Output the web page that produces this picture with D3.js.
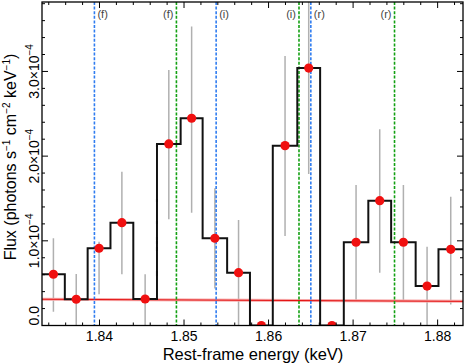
<!DOCTYPE html>
<html>
<head>
<meta charset="utf-8">
<script src="https://d3js.org/d3.v7.min.js"></script>
<style>
  body { margin: 0; background: #fff; }
  svg { display: block; font-family: 'Liberation Sans', Arial, sans-serif; }
</style>
</head>
<body>
<div class="Canvas"></div>
<script>
// bin edges in keV, values / errors in units of 1e-4
const binEdges = [1.8332, 1.8359, 1.8386, 1.8413, 1.8440, 1.8468, 1.8496, 1.8522, 1.8551, 1.8578,
  1.8605, 1.8634, 1.8661, 1.8689, 1.8718, 1.8745, 1.8774, 1.8801, 1.8830];
const fluxValues = [0.605, 0.31, 0.912, 1.214, 0.313, 2.144, 2.447, 1.03, 0.624, 0,
  2.124, 3.04, 0, 0.983, 1.474, 0.983, 0.466, 0.9];
const errHigh = [1.03, 0.608, 0.99, 1.816, 0.605, 3.018, 3.53, 1.62, 1.246, 0,
  3.183, 4.2, 0, 1.66, 2.317, 1.66, 0.93, 1.52];
const errLow = [0.175, 0, 0.38, 0.617, 0, 1.266, 1.344, 0.45, 0, 0,
  1.069, 1.8, 0, 0.3, 0.635, 0.3, 0, 0.26];
const modelLine = [[1.8332, 0.31], [1.8830, 0.285]];
const blueLines = [1.8394, 1.8538, 1.8650];
const greenLines = [1.8491, 1.8636, 1.8749];
const lineLabels = ['(f)', '(i)', '(r)'];
const xTicks = [1.84, 1.85, 1.86, 1.87, 1.88];
const yTicks = [0, 1, 2, 3];
const yTickLabels = ['0.0', '1.0', '2.0', '3.0'];

const width = 464;
const height = 364;
const pLeft = 42, pRight = 463, pTop = 2, pBottom = 325.5;

const svg = d3.select('.Canvas').append('svg').attr('width', width).attr('height', height);

const x = d3.scaleLinear().domain([1.8332, 1.8830]).range([pLeft, pRight]);
const y = d3.scaleLinear().domain([0, 3.82]).range([pBottom, pTop]);

svg.append('defs').append('clipPath').attr('id', 'plotClip')
  .append('rect').attr('x', pLeft).attr('y', pTop).attr('width', pRight - pLeft).attr('height', pBottom - pTop);

const plot = svg.append('g').attr('clip-path', 'url(#plotClip)');

const bins = fluxValues.map((v, i) => ({
  x0: binEdges[i], x1: binEdges[i + 1], xc: (binEdges[i] + binEdges[i + 1]) / 2,
  v: v, hi: errHigh[i], lo: errLow[i]
}));

// error bars
plot.selectAll('line.err')
  .data(bins.filter((d) => d.hi > d.lo))
  .enter()
  .append('line')
  .attr('class', 'err')
  .attr('x1', (d) => x(d.xc))
  .attr('x2', (d) => x(d.xc))
  .attr('y1', (d) => y(d.hi))
  .attr('y2', (d) => y(d.lo) + 1)
  .attr('stroke', '#b0b0b0')
  .attr('stroke-width', 1.5);

// continuum model
const model = d3.line().x((d) => x(d[0])).y((d) => y(d[1]));
plot.append('path').datum(modelLine).attr('d', model)
  .attr('fill', 'none').attr('stroke', '#f6a8a8').attr('stroke-width', 3);
plot.append('path').datum(modelLine).attr('d', model)
  .attr('fill', 'none').attr('stroke', '#e41010').attr('stroke-width', 1);

// dashed line positions
const drawDashes = (vals, color) => {
  plot.selectAll(null)
    .data(vals)
    .enter()
    .append('line')
    .attr('x1', (d) => x(d))
    .attr('x2', (d) => x(d))
    .attr('y1', pTop)
    .attr('y2', pBottom)
    .attr('stroke', color)
    .attr('stroke-width', 1.6)
    .attr('stroke-dasharray', '3,1.6');
};
drawDashes(blueLines, '#2f7cf0');
drawDashes(greenLines, '#12a012');

// histogram steps
const stepPts = [];
bins.forEach((d) => {
  stepPts.push([d.x0, d.v]);
  stepPts.push([d.x1, d.v]);
});
plot.append('path').datum(stepPts)
  .attr('d', d3.line().x((d) => x(d[0])).y((d) => y(d[1])))
  .attr('fill', 'none')
  .attr('stroke', '#111')
  .attr('stroke-width', 2);

// points
plot.selectAll('circle.pt')
  .data(bins)
  .enter()
  .append('circle')
  .attr('class', 'pt')
  .attr('cx', (d) => x(d.xc))
  .attr('cy', (d) => y(d.v))
  .attr('r', 4.6)
  .attr('fill', '#f01010');

// line labels
const labelG = svg.append('g').attr('font-size', '11px').attr('fill', '#444');
labelG.selectAll(null).data(blueLines).enter().append('text')
  .attr('x', (d) => x(d) + 3).attr('y', 18)
  .text((d, i) => lineLabels[i]);
labelG.selectAll(null).data(greenLines).enter().append('text')
  .attr('x', (d) => x(d) - 3).attr('y', 18)
  .attr('text-anchor', 'end')
  .text((d, i) => lineLabels[i]);

// frame
svg.append('rect')
  .attr('x', pLeft).attr('y', pTop).attr('width', pRight - pLeft).attr('height', pBottom - pTop)
  .attr('fill', 'none').attr('stroke', '#000').attr('stroke-width', 1.3);

// ticks (inward, all sides)
const xMinor = d3.range(1.834, 1.8831, 0.002);
const yMinor = d3.range(0, 3.81, 0.2);
const isMajorX = (v) => Math.abs(v * 100 - Math.round(v * 100)) < 1e-6;
const isMajorY = (v) => Math.abs(v - Math.round(v)) < 1e-6;
const tickG = svg.append('g').attr('stroke', '#000').attr('stroke-width', 1);
xMinor.forEach((v) => {
  const len = isMajorX(v) ? 6 : 3;
  tickG.append('line').attr('x1', x(v)).attr('x2', x(v)).attr('y1', pBottom).attr('y2', pBottom - len);
  tickG.append('line').attr('x1', x(v)).attr('x2', x(v)).attr('y1', pTop).attr('y2', pTop + len);
});
yMinor.forEach((v) => {
  const len = isMajorY(v) ? 6 : 3;
  tickG.append('line').attr('y1', y(v)).attr('y2', y(v)).attr('x1', pLeft).attr('x2', pLeft + len);
  tickG.append('line').attr('y1', y(v)).attr('y2', y(v)).attr('x1', pRight).attr('x2', pRight - len);
});

// x tick labels
svg.selectAll('text.xt')
  .data(xTicks)
  .enter()
  .append('text')
  .attr('class', 'xt')
  .attr('x', (d) => x(d))
  .attr('y', 340.5)
  .attr('text-anchor', 'middle')
  .attr('font-size', '14px')
  .text((d) => d3.format('.2f')(d));

// y tick labels, rotated
yTicks.forEach((v, i) => {
  const t = svg.append('text')
    .attr('transform', `translate(39,${v === 0 ? pBottom : y(v)}) rotate(-90)`)
    .attr('text-anchor', v === 0 ? 'start' : 'middle')
    .attr('font-size', '14px');
  t.append('tspan').text(yTickLabels[i]);
  if (v !== 0) {
    t.append('tspan').text('\u00d710');
    t.append('tspan').attr('dy', -6).attr('font-size', '10px').text('\u22124');
  }
});

// axis titles
svg.append('text')
  .attr('x', 253)
  .attr('y', 359.5)
  .attr('text-anchor', 'middle')
  .attr('font-size', '16.5px')
  .text('Rest-frame energy (keV)');

const yt = svg.append('text')
  .attr('transform', `translate(16,${157}) rotate(-90)`)
  .attr('text-anchor', 'middle')
  .attr('font-size', '16px');
const parts = [['Flux (photons s', 0], ['\u22121', -6], [' cm', 6], ['\u22122', -6], [' keV', 6], ['\u22121', -6], [')', 6]];
parts.forEach((p) => {
  const sup = p[1] < 0;
  yt.append('tspan').attr('dy', p[1]).attr('font-size', sup ? '10px' : '16px').text(p[0]);
});
</script>
</body>
</html>
